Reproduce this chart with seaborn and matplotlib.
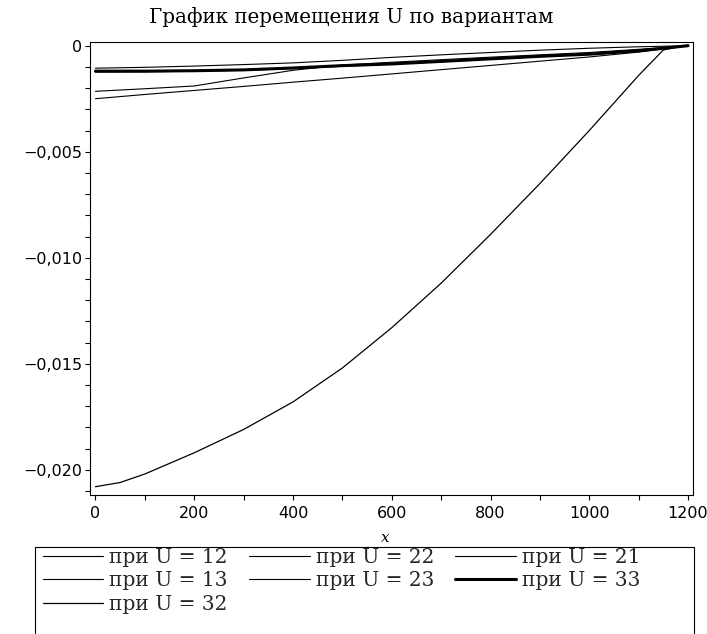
import matplotlib
matplotlib.use("Agg")
import matplotlib.pyplot as plt
import seaborn as sns
from matplotlib.ticker import MultipleLocator, FuncFormatter
from matplotlib.patches import Rectangle

# ---------------- data ----------------
title = "График перемещения U по вариантам"
x_label = "x"
labels = ["при U = 12", "при U = 22", "при U = 21", "при U = 13",
          "при U = 23", "при U = 33", "при U = 32"]

x_lin = [0, 100, 200, 300, 400, 500, 600, 700, 800, 900, 1000, 1100, 1200]
u12 = [-0.00106, -0.00102, -0.00096, -0.00089, -0.00081, -0.00069, -0.00055,
       -0.00043, -0.00032, -0.00021, -0.00012, -0.00005, 0.0]
u22 = [-0.00215, -0.00203, -0.00190, -0.00152, -0.00116, -0.00091, -0.00078,
       -0.00066, -0.00054, -0.00043, -0.00032, -0.00017, 0.0]
u21 = [-0.00124, -0.00123, -0.00120, -0.00116, -0.00108, -0.00097, -0.00087,
       -0.00076, -0.00064, -0.00052, -0.00040, -0.00022, 0.0]
u13 = [-0.00250, -0.00230, -0.00211, -0.00192, -0.00172, -0.00153, -0.00133,
       -0.00113, -0.00093, -0.00073, -0.00053, -0.00030, 0.0]
u23 = [-0.00121, -0.00121, -0.00119, -0.00114, -0.00104, -0.00093, -0.00084,
       -0.00073, -0.00061, -0.00050, -0.00039, -0.00023, 0.0]
u33 = [-0.00120, -0.00120, -0.00118, -0.00114, -0.00105, -0.00094, -0.00086,
       -0.00074, -0.00062, -0.00050, -0.00040, -0.00024, 0.0]
x_curve = [0, 50, 100, 150, 200, 300, 400, 500, 600, 700, 800, 900, 1000,
           1100, 1150, 1200]
u32 = [-0.0208, -0.0206, -0.0202, -0.0197, -0.0192, -0.0181, -0.0168, -0.0152,
       -0.0133, -0.0112, -0.0089, -0.0065, -0.0040, -0.0014, -0.0002, 0.00003]

# ---------------- style ----------------
sns.set_style("ticks")
plt.rcParams["font.family"] = ["DejaVu Sans"]
plt.rcParams["axes.edgecolor"] = "black"
plt.rcParams["axes.linewidth"] = 0.8

W, H = 707, 634
fig = plt.figure(figsize=(W / 100, H / 100), dpi=100)
ax = fig.add_axes([90 / W, 1 - 495 / H, 603 / W, 453 / H])

series = [
    (labels[0], x_lin, u12, 0.8),
    (labels[1], x_lin, u22, 0.8),
    (labels[2], x_lin, u21, 0.8),
    (labels[3], x_lin, u13, 0.8),
    (labels[4], x_lin, u23, 0.8),
    (labels[5], x_lin, u33, 2.2),
    (labels[6], x_curve, u32, 0.9),
]
handles = {}
for lab, xs, ys, lw in series:
    sns.lineplot(x=xs, y=ys, ax=ax, color="black", linewidth=lw,
                 label=lab, legend=False)
    handles[lab] = ax.get_lines()[-1]

ax.set_xlim(-11, 1210)
ax.set_ylim(-0.02119, 0.000175)

ax.xaxis.set_major_locator(MultipleLocator(200))
ax.xaxis.set_minor_locator(MultipleLocator(100))
ax.yaxis.set_major_locator(MultipleLocator(0.005))
ax.yaxis.set_minor_locator(MultipleLocator(0.001))


def yfmt(v, pos):
    if abs(v) < 1e-12:
        return "0"
    return f"{v:.3f}".replace(".", ",").replace("-", "\u2212")


ax.yaxis.set_major_formatter(FuncFormatter(yfmt))
ax.xaxis.set_major_formatter(FuncFormatter(lambda v, p: f"{int(round(v))}"))

for which in ("major", "minor"):
    ax.tick_params(axis="both", which=which, direction="out", length=3.6,
                   width=0.8, color="black", labelsize=11.5, pad=2,
                   labelcolor="black")
ax.tick_params(axis="x", which="major", pad=4)
for s in ax.spines.values():
    s.set_visible(True)
    s.set_color("black")
    s.set_linewidth(0.8)

# title
fig.text(351 / W, 1 - 17 / H, title, ha="center", va="center",
         family="DejaVu Serif", fontsize=14.3, color="black")

# x label
ax.set_xlabel(x_label, fontstyle="italic", family="DejaVu Serif",
              fontsize=11, color="black")
ax.xaxis.set_label_coords((385 - 90) / 603, (495 - 538) / 453)
ax.xaxis.label.set_va("center")

# legend (column-major fill -> row-major appearance)
order = [labels[0], labels[3], labels[6], labels[1], labels[4], labels[2], labels[5]]
leg = fig.legend([handles[l] for l in order], order, loc="upper left",
                 bbox_to_anchor=(43 / W, 1 - 548 / H), ncol=3, frameon=False,
                 borderpad=0, borderaxespad=0, handlelength=3.0,
                 handletextpad=0.3, columnspacing=1.05, labelspacing=0.22,
                 prop={"family": "DejaVu Serif", "size": 14.5})
fig.add_artist(Rectangle((35 / W, -0.02), (694 - 35) / W, (1 - 547 / H) + 0.02,
                         transform=fig.transFigure, fill=False,
                         edgecolor="black", linewidth=0.8, clip_on=False))

fig.savefig("out.png", dpi=100)
